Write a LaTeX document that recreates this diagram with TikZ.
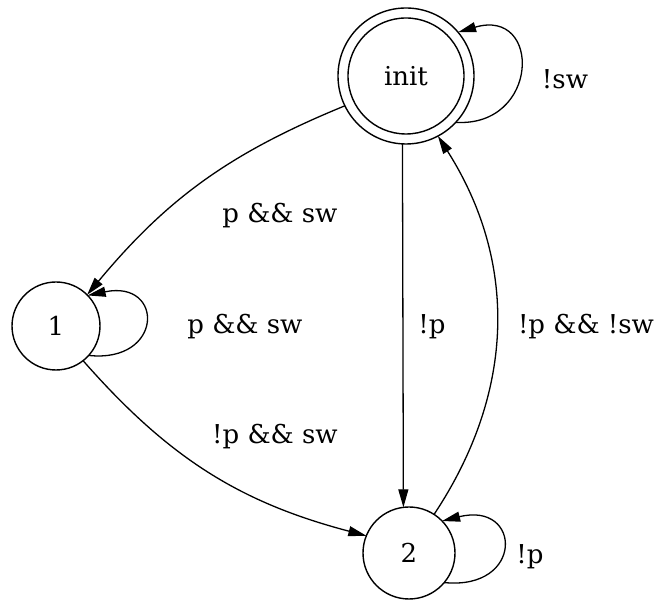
\documentclass[tikz,border=0pt]{standalone}
\usepackage{fontspec}
\setmainfont{DejaVu Serif}
\usetikzlibrary{arrows.meta}
\begin{document}
\begin{tikzpicture}[x=1pt,y=1pt,
  state/.style={circle,draw,line width=1.4pt,inner sep=0pt,outer sep=0pt,font=\fontsize{26}{30}\selectfont},
  lbl/.style={font=\fontsize{26}{30}\selectfont,inner sep=0pt},
  edge/.style={line width=1.3pt,-{Triangle[length=18pt,width=10pt]}}]
\useasboundingbox (0,0) rectangle (654,601);
\node[state,minimum size=136pt] (init) at (406,525) {init};
\draw[line width=1.4pt] (init.center) circle (58pt);
\node[state,minimum size=88pt] (n1) at (56,275) {1};
\node[state,minimum size=92pt] (n2) at (409,48) {2};
% edges
\draw[edge] (init.206) to[bend right=14] (n1.45);
\draw[edge] (n1.308) to[bend right=17] (n2.158);
\draw[edge] (init.267) -- (n2.97);
\draw[edge] (n2.57) to[bend right=33] (init.298);
% loops
\draw[edge] (init.-43) .. controls +(84,-5) and +(84,25) .. (init.40);
\draw[edge] (n1.-42) .. controls +(75,-8) and +(77,16) .. (n1.44);
\draw[edge] (n2.-40) .. controls +(80,-8) and +(80,20) .. (n2.44);
% labels
\node[lbl] (l1) at (280,385) {p \&\& sw};
\node[lbl] (l2) at (245,274) {p \&\& sw};
\node[lbl] (l3) at (275,164) {!p \&\& sw};
\node[lbl] (l4) at (432,274) {!p};
\node[lbl] (l5) at (586,274) {!p \&\& !sw};
\node[lbl] (l6) at (565,522) {!sw};
\node[lbl] (l7) at (530,44) {!p};
\end{tikzpicture}
\end{document}
